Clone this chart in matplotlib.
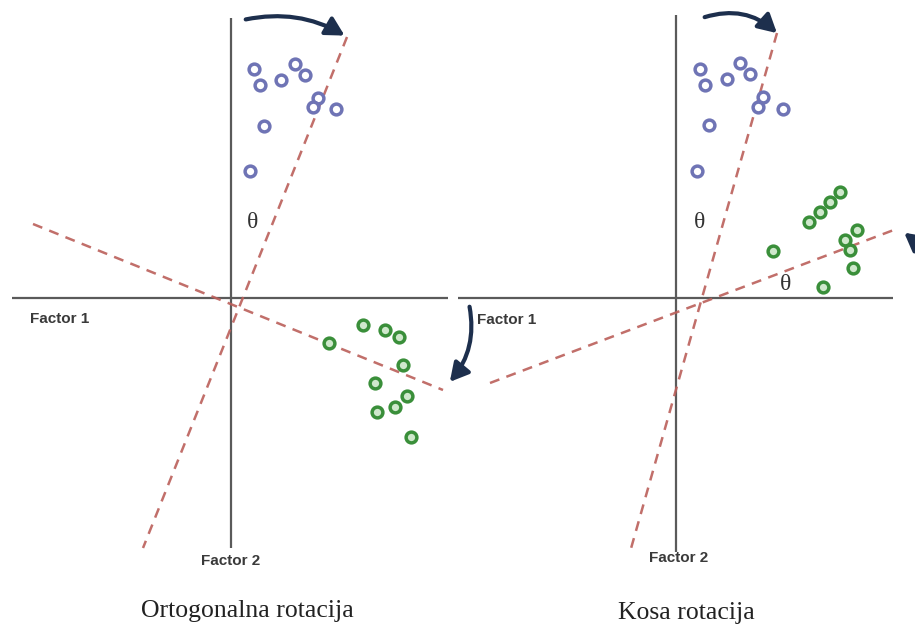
import matplotlib.pyplot as plt
from matplotlib.patches import FancyArrowPatch

# scatter points (x, y in picture units, y grows downward)
left_blue_x = [254, 260, 281, 295, 305, 318, 313, 336, 264, 250]
left_blue_y = [69, 85, 80, 64, 75, 98, 107, 109, 126, 171]
left_green_x = [363, 385, 399, 329, 403, 375, 407, 395, 377, 411]
left_green_y = [325, 330, 337, 343, 365, 383, 396, 407, 412, 437]

right_blue_x = [700, 705, 727, 740, 750, 763, 758, 783, 709, 697]
right_blue_y = [69, 85, 79, 63, 74, 97, 107, 109, 125, 171]
right_green_x = [840, 830, 820, 809, 857, 845, 850, 773, 853, 823]
right_green_y = [192, 202, 212, 222, 230, 240, 250, 251, 268, 287]

# factor axes and rotated (dashed) axes, as end points
left_axes = {'h': ((12, 448), (298, 298)), 'v': ((231, 231), (18, 548))}
left_rot = [((347, 143), (37, 548)), ((33, 443), (224, 390))]
right_axes = {'h': ((458, 893), (298, 298)), 'v': ((676, 676), (15, 552))}
right_rot = [((777, 630), (33, 552)), ((490, 899), (383, 228))]

titles = ['Ortogonalna rotacija', 'Kosa rotacija']

axis_col = '#5a5a5a'
dash_col = '#bb5f5a'
arrow_col = '#1d2f4d'

fig = plt.figure(figsize=(9.15, 6.34), dpi=100)
ax = fig.add_axes([0, 0, 1, 1])
ax.set_xlim(0, 915)
ax.set_ylim(634, 0)
ax.axis('off')

for axes_lines, rot_lines in [(left_axes, left_rot), (right_axes, right_rot)]:
    for xs, ys in axes_lines.values():
        ax.plot(xs, ys, color=axis_col, lw=1.6, solid_capstyle='butt')
    for xs, ys in rot_lines:
        ax.plot(xs, ys, color=dash_col, lw=1.8, dashes=(4, 3), alpha=0.9)

blue_style = dict(s=60, facecolor='white', edgecolor='#6f74b5', lw=2.5, zorder=3)
green_style = dict(s=60, facecolor='#cfe8cc', edgecolor='#3a8f3a', lw=2.5, zorder=3)
ax.scatter(left_blue_x, left_blue_y, **blue_style)
ax.scatter(right_blue_x, right_blue_y, **blue_style)
ax.scatter(left_green_x, left_green_y, **green_style)
ax.scatter(right_green_x, right_green_y, **green_style)

# rotation arrows
arrows = [((243, 20), (347, 37), -0.2),
          ((702, 18), (779, 35), -0.3),
          ((469, 304), (448, 384), -0.25),
          ((935, 262), (902, 231), 0.05)]
for start, end, rad in arrows:
    ax.add_patch(FancyArrowPatch(start, end, connectionstyle=f'arc3,rad={rad}',
                                 arrowstyle='-|>,head_length=11,head_width=6',
                                 color=arrow_col, lw=3, zorder=4))

# theta labels
for x, y in [(253, 222), (700, 222), (786, 284)]:
    ax.text(x, y, 'θ', fontsize=17, ha='center', va='center',
            color='#333333', fontfamily='Liberation Serif')

factor_font = dict(fontsize=11, fontweight='bold', color='#3a3a3a',
                   fontfamily='Liberation Sans', va='center')
ax.text(30, 319, 'Factor 1', **factor_font)
ax.text(477, 320, 'Factor 1', **factor_font)
ax.text(231, 561, 'Factor 2', ha='center', **factor_font)
ax.text(679, 558, 'Factor 2', ha='center', **factor_font)

ax.text(247, 611, titles[0], fontsize=18.5, ha='center', va='center',
        fontfamily='Liberation Serif', color='#222222')
ax.text(686, 613, titles[1], fontsize=18.5, ha='center', va='center',
        fontfamily='Liberation Serif', color='#222222')

fig.savefig('out.png', dpi=100)
